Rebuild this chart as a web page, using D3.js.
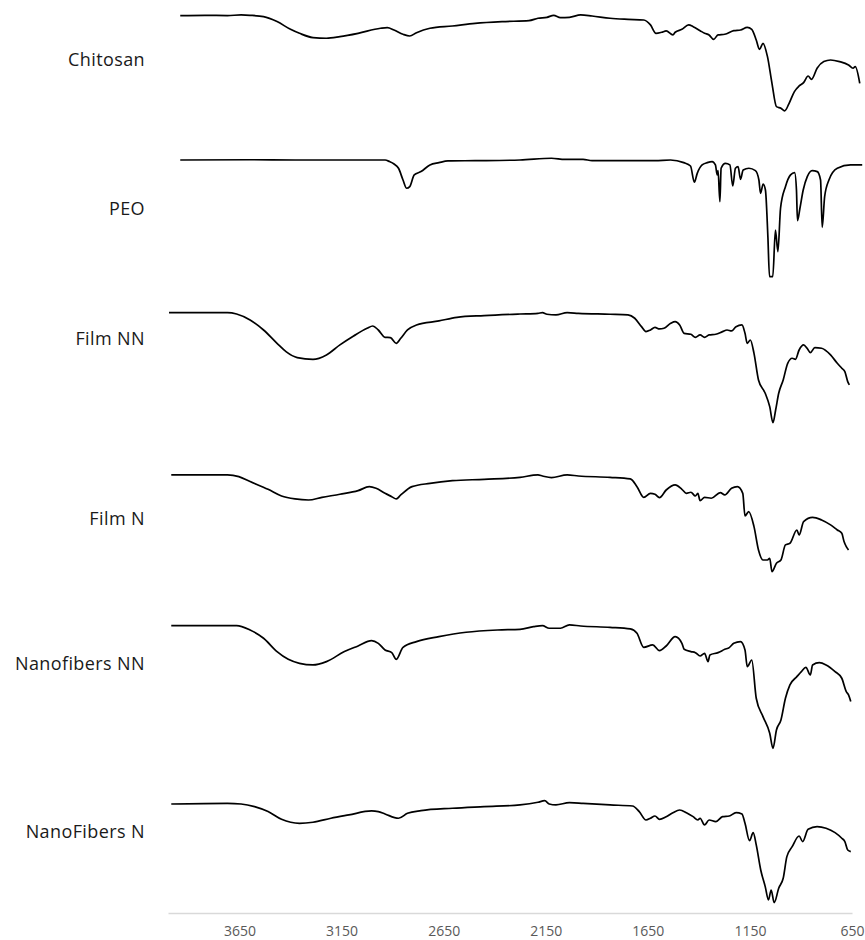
<!DOCTYPE html>
<html>
<head>
<meta charset="utf-8">
<script src="https://cdn.jsdelivr.net/npm/d3@7/dist/d3.min.js"></script>
<style>
  body { margin: 0; background: #fff; }
  svg { display: block; }
  .label { font-family: "Open Sans", sans-serif; font-size: 18px; letter-spacing: 0.4px; fill: #1a1a1a; }
  .axis text { font-family: "Open Sans", sans-serif; font-size: 14px; fill: #595959; }
  .axis path { stroke: #d9d9d9; stroke-width: 1.5; }
  .trace { fill: none; stroke: #000; stroke-width: 1.7; stroke-linejoin: round; }
</style>
</head>
<body>
<svg id="chart" width="865" height="940"></svg>
<script>
// FTIR spectra, [wavenumber cm-1, transmittance a.u.]
var chitosan = [[3940,88.3],[3819,88.5],[3709,88.3],[3642,88.8],[3598,88.5],[3532,87.5],[3466,83.8],[3400,78.0],[3356,75.0],[3290,71.8],[3224,71.3],[3158,72.5],[3069,75.0],[2959,78.8],[2926,79.3],[2893,77.5],[2849,74.3],[2816,73.0],[2783,75.5],[2717,78.8],[2607,80.5],[2496,82.5],[2364,83.8],[2232,84.5],[2188,86.3],[2144,87.0],[2111,88.5],[2078,86.8],[2034,87.0],[1979,88.8],[1923,88.0],[1835,86.3],[1747,85.5],[1670,85.0],[1637,81.3],[1610,75.0],[1582,75.8],[1560,76.8],[1527,73.8],[1516,75.8],[1483,78.0],[1450,81.3],[1428,80.0],[1394,77.0],[1372,75.0],[1350,73.8],[1328,70.5],[1306,73.8],[1273,74.3],[1229,77.0],[1196,77.5],[1163,79.5],[1141,78.0],[1119,70.0],[1103,63.0],[1086,67.5],[1064,57.5],[1042,37.5],[1020,20.0],[998,18.8],[980,16.8],[958,22.5],[932,31.3],[909,35.5],[887,38.0],[865,43.0],[848,40.5],[821,48.8],[788,53.8],[755,55.0],[711,53.8],[667,51.3],[645,48.8],[634,50.0],[612,37.5]];

var peo = [[3940,85],[3600,85.2],[3378,85],[2937,85],[2915,83.8],[2893,82],[2871,78.8],[2849,70],[2831,63.8],[2816,65],[2794,73.8],[2761,76.3],[2717,81.3],[2673,83],[2629,84.3],[2496,84.5],[2276,85],[2122,86.3],[2056,85.5],[1967,85.5],[1923,84.5],[1835,84.5],[1615,84.5],[1539,85],[1474,83],[1441,80.5],[1422,68.3],[1408,75],[1384,81.3],[1359,83],[1335,83.8],[1319,81.3],[1310,73.8],[1306,77],[1297,53.8],[1291,78.8],[1270,82.5],[1248,81.3],[1234,65.5],[1221,78.8],[1208,80],[1196,70.5],[1183,77.5],[1155,78.8],[1123,77],[1106,70],[1098,60],[1085,67],[1074,62.5],[1062,27.5],[1054,-2.5],[1038,-2.5],[1025,32.5],[1013,16.3],[1000,48.8],[976,65],[951,73.8],[931,75.5],[922,62.5],[917,39.5],[905,48.8],[889,62.5],[869,72.5],[845,77],[820,76.3],[804,70],[796,34.5],[784,57.5],[763,70],[722,78.8],[657,81.3],[600,81.3]];

var filmNN = [[3995,90.5],[3709,90.5],[3664,89.5],[3598,85],[3532,77.5],[3466,67.5],[3422,61.3],[3367,56.8],[3290,55.5],[3224,58.8],[3158,66.3],[3091,73],[3025,78.8],[2997,80.5],[2970,77.5],[2937,72],[2911,71.8],[2882,67.5],[2860,71.3],[2827,77.5],[2783,81.3],[2673,84.3],[2585,87],[2452,88.3],[2276,89.5],[2188,90],[2166,90.5],[2144,89.3],[2100,88.8],[2045,90.5],[1990,90],[1835,89.3],[1747,88.8],[1714,86.3],[1681,80],[1659,76.3],[1637,77.5],[1615,79.5],[1593,78.3],[1571,78.8],[1538,82.5],[1516,83.8],[1494,81.3],[1472,75],[1439,74.3],[1417,72],[1394,73.8],[1372,72],[1350,73.8],[1317,74.3],[1284,76.3],[1262,77.5],[1240,76.8],[1218,80],[1189,81.3],[1174,75],[1163,67.5],[1148,70],[1130,60],[1108,40],[1075,30],[1053,20],[1037,8],[1024,17.5],[1009,30],[987,40],[965,52.5],[943,56.3],[927,55.5],[909,62.5],[887,66.3],[870,63.8],[854,60.5],[832,64.3],[799,63.8],[755,58.8],[722,52.5],[700,48.8],[685,46.3],[671,38.8],[663,36.3]];

var filmN = [[3984,88.8],[3709,88.8],[3653,87.5],[3598,83.8],[3510,78],[3444,73],[3378,70.8],[3312,70],[3246,72],[3158,74.3],[3069,77],[3014,80],[2981,78.8],[2937,75],[2904,72.5],[2882,70.8],[2860,73.8],[2805,80],[2717,82.5],[2607,84.5],[2452,85.5],[2276,87],[2188,88.8],[2166,88],[2122,86.8],[2045,88.8],[1990,88],[1835,87],[1736,85.8],[1703,80],[1670,72],[1637,75],[1615,74.3],[1593,71.8],[1560,77.5],[1516,81.3],[1483,78],[1461,75],[1439,75.8],[1417,73],[1405,75],[1394,69.5],[1372,72],[1339,71.3],[1295,75.5],[1273,73.8],[1240,78.8],[1211,80],[1185,75],[1174,58],[1156,61.3],[1130,50],[1108,32.5],[1086,25],[1064,25],[1053,26.3],[1042,16.3],[1020,22.5],[998,25],[976,36.3],[954,37.5],[920,47.5],[909,43.8],[887,53.8],[843,57],[799,55],[755,51.3],[722,47.5],[700,45],[689,38.8],[678,35],[667,32.5]];

var nanoNN = [[3984,88.3],[3664,88.3],[3598,85],[3532,78.8],[3466,68.8],[3411,63],[3356,60],[3290,58.8],[3224,61.3],[3136,68.8],[3069,73],[3003,77],[2970,75],[2937,70],[2904,68],[2882,63],[2849,72],[2783,76.3],[2673,80],[2540,83.3],[2386,85],[2276,85.5],[2210,87.5],[2166,88.3],[2133,86.3],[2078,86.3],[2034,88.8],[1979,88],[1835,87],[1736,85.8],[1703,82.5],[1670,72],[1626,73.8],[1593,69.5],[1560,73],[1516,80],[1483,75],[1472,70.5],[1439,68.8],[1417,68],[1394,65.5],[1372,67.5],[1355,61.3],[1346,66.3],[1306,68],[1273,70.5],[1251,71.8],[1229,75],[1196,76.3],[1174,70],[1163,57.5],[1141,62.5],[1119,33.8],[1086,20],[1053,7.5],[1037,-3.8],[1020,10],[998,17.5],[976,33.8],[954,43.8],[920,50],[898,53.8],[876,57],[854,51.3],[843,58.8],[810,60.5],[777,58.8],[733,53.8],[700,48.8],[678,38.8],[667,36.3],[656,31.3]];

var nanoN = [[3984,89.5],[3709,90],[3642,89.5],[3576,87.5],[3510,83.8],[3444,78],[3356,75],[3290,75.8],[3202,78.8],[3114,81.3],[3003,84.3],[2970,83.8],[2937,82],[2871,78.8],[2827,82.5],[2761,84.5],[2607,86.3],[2452,87.5],[2276,88.8],[2188,90.8],[2155,92],[2133,89.5],[2100,88.8],[2034,90.5],[1967,90],[1835,88.8],[1725,88],[1692,83.8],[1659,77.5],[1637,78.8],[1615,80.5],[1593,78],[1560,80],[1527,83],[1494,85],[1461,83],[1428,80],[1405,77.5],[1394,78.8],[1372,73.8],[1350,77.5],[1317,76.3],[1284,80],[1251,80.5],[1218,83],[1189,82],[1174,75],[1152,62],[1134,68],[1119,58.8],[1097,40],[1075,27.5],[1059,17.5],[1046,25],[1031,15.5],[1009,26.3],[987,33.8],[969,50],[943,57.5],[909,65.5],[892,61.3],[865,70.5],[821,72.5],[777,71.3],[733,68],[700,63.8],[685,61.3],[671,55],[656,53.8]];

var names = ["Chitosan", "PEO", "Film NN", "Film N", "Nanofibers NN", "NanoFibers N"];
var series = [chitosan, peo, filmNN, filmN, nanoNN, nanoN];
var ticks = [3650, 3150, 2650, 2150, 1650, 1150, 650];

// layout of the stacked bands
var bandTop = [0, 140, 300, 460, 610, 790];
var labelY = [60, 209, 339, 519, 664, 832];
var bandH = 133.3;

var svg = d3.select("#chart");

var x = d3.scaleLinear().domain([4000, 650]).range([168, 852]);

var line = d3.line()
    .curve(d3.curveMonotoneX)
    .x(function(d) { return x(d[0]); });

series.forEach(function(s, i) {
    var y = d3.scaleLinear()
        .domain([100, 0])
        .range([bandTop[i], bandTop[i] + bandH]);
    line.y(function(d) { return y(d[1]); });
    svg.append("path")
        .datum(s)
        .attr("class", "trace")
        .attr("d", line);
    svg.append("text")
        .attr("class", "label")
        .attr("x", 145)
        .attr("y", labelY[i])
        .attr("dy", "0.35em")
        .attr("text-anchor", "end")
        .text(names[i]);
});

svg.append("g")
    .attr("class", "axis")
    .attr("transform", "translate(0,913)")
    .call(d3.axisBottom(x).tickValues(ticks).tickFormat(d3.format("d"))
        .tickSize(0).tickPadding(13).tickSizeOuter(0))
    .call(function(g) { g.selectAll(".tick line").remove(); });
</script>
</body>
</html>
